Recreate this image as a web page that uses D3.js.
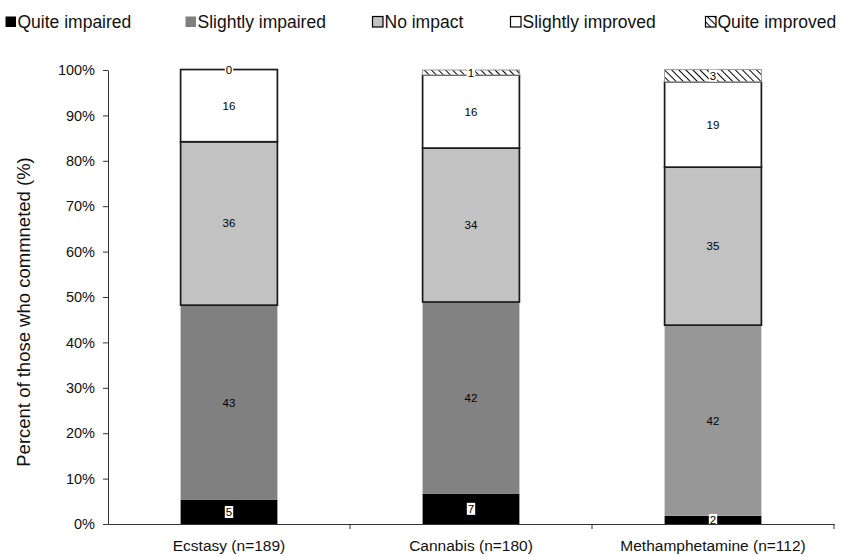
<!DOCTYPE html>
<html>
<head>
<meta charset="utf-8">
<script src="https://cdn.jsdelivr.net/npm/d3@7"></script>
<style>
  html, body { margin: 0; padding: 0; background: #fff; }
  svg { display: block; font-family: Arial, "Liberation Sans", sans-serif; }
</style>
</head>
<body>
<svg id="chart" width="842" height="556"></svg>
<script>
// ---------- data ----------
const categories = ["Ecstasy (n=189)", "Cannabis (n=180)", "Methamphetamine (n=112)"];
const seriesNames = ["Quite impaired", "Slightly impaired", "No impact", "Slightly improved", "Quite improved"];
const quiteImpaired    = [5.3, 6.7, 1.8];
const slightlyImpaired = [42.9, 42.2, 42.0];
const noImpact         = [36.0, 33.9, 34.8];
const slightlyImproved = [15.9, 16.1, 18.8];
const quiteImproved    = [0.0, 1.1, 2.7];
const yTicks = [0, 10, 20, 30, 40, 50, 60, 70, 80, 90, 100];
const yTitle = "Percent of those who commneted (%)";

// ---------- layout / style ----------
const plotLeft = 108, plotRight = 834, plotTop = 70, plotBottom = 524;
const seriesValues = [quiteImpaired, slightlyImpaired, noImpact, slightlyImproved, quiteImproved];
const fills = ["#000000", "#808080", "#c2c2c2", "#ffffff", "url(#hatch)"];
const strokes = ["none", "none", "#1a1a1a", "#1a1a1a", "#9a9a9a"];
const slightlyImpairedFillByCat = ["#808080", "#828282", "#979797"];
const FONT = "Arial, 'Liberation Sans', sans-serif";

const svg = d3.select("#chart");
const defs = svg.append("defs");
const pat = defs.append("pattern")
  .attr("id", "hatch").attr("patternUnits", "userSpaceOnUse")
  .attr("width", 5).attr("height", 5)
  .attr("patternTransform", "rotate(-45)");
pat.append("rect").attr("width", 5).attr("height", 5).attr("fill", "#fff");
pat.append("line").attr("x1", 0).attr("y1", 0).attr("x2", 0).attr("y2", 5)
  .attr("stroke", "#000").attr("stroke-width", 2);

const x = d3.scaleBand().domain(categories).range([plotLeft, plotRight]).padding(0);
const barW = x.bandwidth() * 0.4;
const y = d3.scaleLinear().domain([0, 100]).range([plotBottom, plotTop]);

// stacked data
const rows = categories.map((c, i) => {
  const o = { cat: c };
  seriesNames.forEach((s, j) => o[s] = seriesValues[j][i]);
  return o;
});
const stack = d3.stack().keys(seriesNames)(rows);

const gBars = svg.append("g");
stack.forEach((layer, j) => {
  gBars.selectAll(null).data(layer).enter().append("rect")
    .attr("x", d => x(d.data.cat) + x.bandwidth() / 2 - barW / 2)
    .attr("y", d => y(d[1]))
    .attr("width", barW)
    .attr("height", d => Math.max(0, y(d[0]) - y(d[1])))
    .attr("fill", (d, i) => j === 1 ? slightlyImpairedFillByCat[i] : fills[j])
    .attr("stroke", strokes[j])
    .attr("stroke-width", j === 4 ? 1 : 1.7);
});

// value labels
const gLab = svg.append("g");
stack.forEach((layer, j) => {
  layer.forEach((d, i) => {
    const v = Math.round(seriesValues[j][i]);
    const cx = x(d.data.cat) + x.bandwidth() / 2;
    const cy = (y(d[0]) + y(d[1])) / 2;
    const t = gLab.append("text")
      .attr("x", cx).attr("y", cy).attr("dy", "0.35em")
      .attr("text-anchor", "middle")
      .attr("font-size", 11.5).attr("fill", "#000")
      .text(v);
    if (v < 10) {
      const bb = t.node().getBBox();
      gLab.insert("rect", () => t.node())
        .attr("x", bb.x - 1).attr("y", bb.y)
        .attr("width", bb.width + 2).attr("height", bb.height)
        .attr("fill", "#fff");
    }
  });
});

// y axis
const yAxis = svg.append("g").attr("transform", `translate(${plotLeft},0)`)
  .call(d3.axisLeft(y).tickValues(yTicks).tickFormat(d => d + "%").tickSize(5).tickSizeOuter(0).tickPadding(8));
yAxis.select(".domain").attr("stroke", "#333");
yAxis.selectAll(".tick line").attr("stroke", "#333");
yAxis.selectAll(".tick text").attr("font-size", 14.5).attr("fill", "#111").attr("font-family", FONT);

// x axis
const xAxis = svg.append("g").attr("transform", `translate(0,${plotBottom})`)
  .call(d3.axisBottom(x).tickSize(0).tickPadding(16).tickSizeOuter(0));
xAxis.select(".domain").attr("stroke", "#333");
xAxis.selectAll(".tick text").attr("font-size", 15.5).attr("fill", "#111").attr("font-family", FONT);
xAxis.selectAll(null).data(categories).enter().append("line")
  .attr("x1", d => x(d) + x.bandwidth()).attr("x2", d => x(d) + x.bandwidth())
  .attr("y1", 0).attr("y2", 5).attr("stroke", "#333");

// y title
svg.append("text")
  .attr("transform", `translate(30,312) rotate(-90)`)
  .attr("text-anchor", "middle").attr("font-size", 18.5).attr("fill", "#111")
  .text(yTitle);

// legend
const legendX = [5, 185, 372, 510, 705];
const legend = svg.append("g");
seriesNames.forEach((s, j) => {
  const g = legend.append("g").attr("transform", `translate(${legendX[j]},22)`);
  g.append("rect").attr("x", 0.5).attr("y", -5.5).attr("width", 10.5).attr("height", 10.5)
    .attr("fill", fills[j]).attr("stroke", j >= 2 ? "#000" : "none").attr("stroke-width", 1.2);
  g.append("text").attr("x", 12.5).attr("y", 0).attr("dy", "0.35em")
    .attr("font-size", 17.5).attr("fill", "#111").text(s);
});
</script>
</body>
</html>
